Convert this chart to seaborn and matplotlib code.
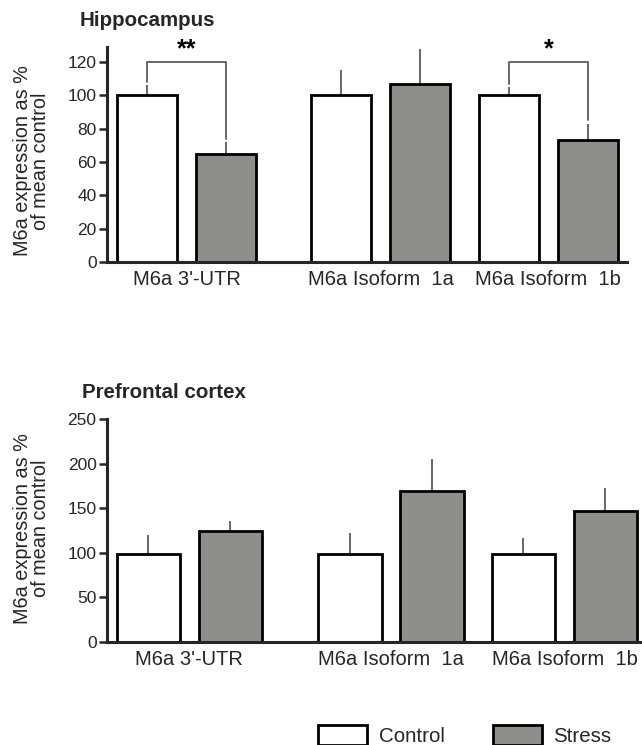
import numpy as np
import pandas as pd
import matplotlib
matplotlib.use("Agg")
import matplotlib.pyplot as plt
import seaborn as sns

# ---------------- data ----------------
categories = ["M6a 3'-UTR", "M6a Isoform  1a", "M6a Isoform  1b"]
groups = ["Control", "Stress"]

hip_control = [100, 100, 100]
hip_stress = [65, 107, 73]
hip_control_sem = [6, 15, 5]
hip_stress_sem = [7, 21, 10]

pfc_control = [98, 98, 98]
pfc_stress = [124, 169, 147]
pfc_control_sem = [22, 24, 18]
pfc_stress_sem = [11, 36, 26]

hip_yticks = [0, 20, 40, 60, 80, 100, 120]
pfc_yticks = [0, 50, 100, 150, 200, 250]

# significance brackets (category index, label)
hip_sig = [(0, "**"), (2, "*")]

# group positions on the x axis (uneven spacing as in the figure)
group_pos = [0.0, 1.161, 2.161]

# ---------------- style ----------------
sns.set_theme(style="ticks")
plt.rcParams["font.family"] = ["Liberation Sans", "DejaVu Sans"]

stress_color = "#8f9089"
palette = {"Control": "white", "Stress": stress_color}
err_color = "#5a5a5a"

fig = plt.figure(figsize=(6.42, 7.45), dpi=100)
W, H = 642, 745


def px_axes(left, top, right, bottom):
    return fig.add_axes([left / W, 1 - bottom / H, (right - left) / W, (bottom - top) / H])


def make_df(ctrl, strs):
    rows = []
    for i, c in enumerate(categories):
        rows.append({"pos": group_pos[i], "group": "Control", "value": ctrl[i]})
        rows.append({"pos": group_pos[i], "group": "Stress", "value": strs[i]})
    return pd.DataFrame(rows)


def draw_panel(ax, ctrl, strs, csem, ssem, yticks, ymax, gap):
    df = make_df(ctrl, strs)
    sns.barplot(data=df, x="pos", y="value", hue="group", hue_order=groups,
                palette=palette, native_scale=True, width=0.944, gap=gap,
                errorbar=None, edgecolor="black", linewidth=2.0, ax=ax,
                legend=True)
    tops = {}
    for cont, sems, g in zip(ax.containers, [csem, ssem], groups):
        xs = [p.get_x() + p.get_width() / 2 for p in cont.patches]
        ys = [p.get_height() for p in cont.patches]
        ax.errorbar(xs, ys, yerr=[np.zeros(len(sems)), sems], fmt="none",
                    ecolor=err_color, elinewidth=1.3, capsize=0, zorder=1)
        tops[g] = [(x, y + s) for x, y, s in zip(xs, ys, sems)]
    ax.set_ylim(0, ymax)
    ax.set_xlim(-0.475, group_pos[-1] + 0.47)
    ax.set_yticks(yticks)
    ax.set_xticks(group_pos)
    ax.set_xticklabels(categories, fontsize=14.5)
    ax.tick_params(axis="y", labelsize=12.5, length=6, width=1.8, pad=1.5, direction="out")
    ax.tick_params(axis="x", length=0, pad=6)
    sns.despine(ax=ax)
    ax.spines["left"].set_linewidth(2.2)
    ax.spines["bottom"].set_linewidth(2.2)
    ax.spines["left"].set_bounds(0, ymax)
    ax.set_xlabel("")
    ax.set_ylabel("M6a expression as %\nof mean control", fontsize=14.3, linespacing=0.95)
    for p in ax.patches:
        p.set_zorder(2)
    return tops


# ---------- Hippocampus ----------
ax1 = px_axes(107, 47, 627, 262)
tops1 = draw_panel(ax1, hip_control, hip_stress, hip_control_sem, hip_stress_sem,
                   hip_yticks, 129, 0.24)
ax1.yaxis.set_label_coords(-0.11, 0.47)

handles, labels = ax1.get_legend_handles_labels()
ax1.get_legend().remove()

for idx, lab in hip_sig:
    xc, yc = tops1["Control"][idx]
    xs, ys = tops1["Stress"][idx]
    ytop = 120
    ax1.plot([xc, xc, xs, xs], [yc + 2, ytop, ytop, ys + 2], color=err_color,
             lw=1.3, clip_on=False, zorder=3)
    ax1.text((xc + xs) / 2, ytop + 0.5, lab, ha="center", va="bottom",
             fontsize=18, fontweight="bold", color="black")

fig.text(80 / W, 1 - 21 / H, "Hippocampus", fontsize=14.8, fontweight="bold",
         ha="left", va="center")

# ---------- Prefrontal cortex ----------
ax2 = px_axes(107, 419, 646, 641.7)
draw_panel(ax2, pfc_control, pfc_stress, pfc_control_sem, pfc_stress_sem,
           pfc_yticks, 250, 0.226)
ax2.yaxis.set_label_coords(-0.106, 0.51)
ax2.get_legend().remove()

fig.text(82 / W, 1 - 393 / H, "Prefrontal cortex", fontsize=14.8, fontweight="bold",
         ha="left", va="center")

# ---------- legend ----------
for h in handles:
    h.set_edgecolor("black")
    h.set_linewidth(2.0)
fig.legend(handles, labels, loc="upper left", bbox_to_anchor=(318 / W, 1 - 725 / H),
           ncol=2, frameon=False, fontsize=14.8, handlelength=2.38, handleheight=1.1,
           handletextpad=0.58, columnspacing=2.33, borderaxespad=0, borderpad=0)

fig.savefig("out.png", dpi=100)
